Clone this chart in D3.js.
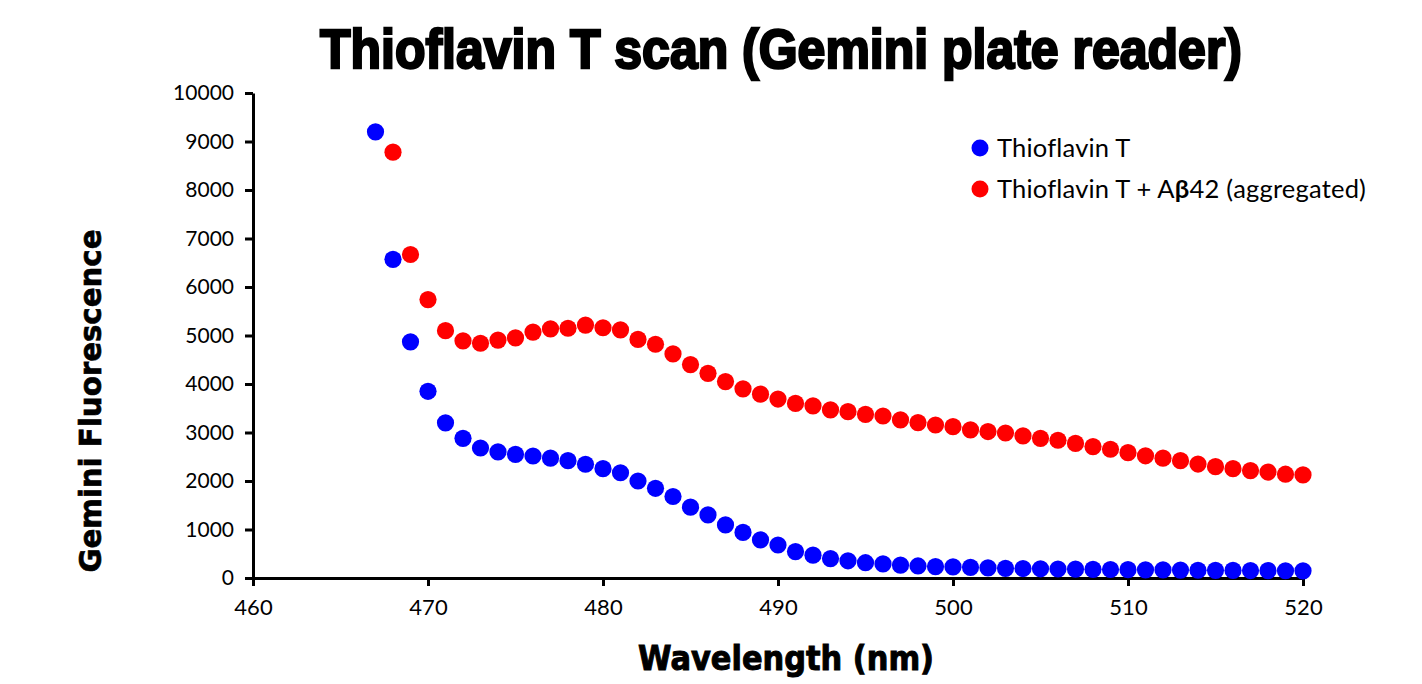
<!DOCTYPE html>
<html>
<head>
<meta charset="utf-8">
<script src="https://cdn.jsdelivr.net/npm/d3@7"></script>
<style>
  html, body { margin: 0; padding: 0; background: #fff; }
  svg { display: block; }
</style>
</head>
<body>
<svg id="chart" width="1422" height="684"></svg>
<script>
// ---- Data ----
const wavelengths = [467,468,469,470,471,472,473,474,475,476,477,478,479,480,481,482,483,484,485,486,487,488,489,490,491,492,493,494,495,496,497,498,499,500,501,502,503,504,505,506,507,508,509,510,511,512,513,514,515,516,517,518,519,520];
const thtValues = [9200,6570,4870,3850,3200,2880,2680,2600,2550,2515,2470,2420,2345,2255,2170,2000,1850,1680,1460,1300,1095,940,785,680,545,470,400,355,315,290,265,248,235,228,220,208,200,195,190,186,182,178,175,172,169,166,163,160,158,156,154,152,150,148];
const thtAbValues = [null,8780,6670,5740,5100,4890,4840,4905,4950,5070,5135,5150,5215,5160,5115,4920,4820,4620,4400,4220,4050,3900,3790,3690,3600,3550,3465,3430,3375,3340,3260,3205,3155,3120,3055,3020,2990,2930,2880,2840,2775,2710,2655,2585,2520,2470,2420,2350,2295,2255,2215,2185,2140,2125];
const seriesNames = ["Thioflavin T", "Thioflavin T + A\u03B242 (aggregated)"];
const seriesColors = ["#0000FF", "#FF0000"];
const xTicks = [460,470,480,490,500,510,520];
const yTicks = [0,1000,2000,3000,4000,5000,6000,7000,8000,9000,10000];
const titleText = "Thioflavin T scan (Gemini plate reader)";
const xTitle = "Wavelength (nm)";
const yTitle = "Gemini Fluorescence";

// ---- Chart ----
const svg = d3.select("#chart");
const x = d3.scaleLinear().domain([460, 520]).range([253, 1303]);
const y = d3.scaleLinear().domain([0, 10000]).range([578, 93]);

// Axes
const xAxis = svg.append("g").attr("transform", `translate(0,${y(0)})`)
  .call(d3.axisBottom(x).tickValues(xTicks).tickFormat(d3.format("d")).tickSize(8).tickSizeOuter(0).tickPadding(13));
const yAxis = svg.append("g").attr("transform", `translate(${x(460)},0)`)
  .call(d3.axisLeft(y).tickValues(yTicks).tickFormat(d3.format("d")).tickSize(8).tickSizeOuter(0).tickPadding(8));

[xAxis, yAxis].forEach(g => {
  g.select(".domain").attr("stroke", "#000").attr("stroke-width", 3);
  g.selectAll(".tick line").attr("stroke", "#000").attr("stroke-width", 3);
  g.selectAll(".tick text").attr("fill", "#000")
    .style("font-family", "Lato, 'Open Sans', sans-serif").style("font-size", "21px");
});
xAxis.selectAll(".tick text").attr("dy", "0.71em").style("font-size", "22px");
yAxis.selectAll(".tick text").attr("dx", "-3");

// Points
const series = [thtValues, thtAbValues];
series.forEach((vals, i) => {
  const pts = wavelengths.map((w, j) => ({ w, v: vals[j] })).filter(d => d.v != null);
  svg.append("g").selectAll("circle").data(pts).join("circle")
    .attr("cx", d => x(d.w)).attr("cy", d => y(d.v)).attr("r", 8.6)
    .attr("fill", seriesColors[i]);
});

// Title
svg.append("text").attr("x", 781).attr("y", 68).attr("text-anchor", "middle")
  .attr("textLength", 922).attr("lengthAdjust", "spacingAndGlyphs")
  .style("font-family", "'Liberation Sans Narrow', 'Liberation Sans', sans-serif")
  .style("font-weight", "bold").style("font-size", "56px")
  .attr("stroke", "#000").attr("stroke-width", 2.5).attr("fill", "#000")
  .text(titleText);

// Axis titles
svg.append("text").attr("x", 786).attr("y", 670).attr("text-anchor", "middle")
  .attr("textLength", 296).attr("lengthAdjust", "spacingAndGlyphs")
  .style("font-family", "'DejaVu Sans', sans-serif").style("font-weight", "bold")
  .style("font-size", "33px").attr("stroke", "#000").attr("stroke-width", 1)
  .text(xTitle);

svg.append("text").attr("transform", "translate(101,401) rotate(-90)").attr("text-anchor", "middle")
  .attr("textLength", 343).attr("lengthAdjust", "spacingAndGlyphs")
  .style("font-family", "'DejaVu Sans', sans-serif").style("font-weight", "bold")
  .style("font-size", "31px").attr("stroke", "#000").attr("stroke-width", 0.7)
  .text(yTitle);

// Legend
const legend = svg.append("g");
const legendY = [148, 189];
seriesNames.forEach((name, i) => {
  legend.append("circle").attr("cx", 980).attr("cy", legendY[i]).attr("r", 8.5).attr("fill", seriesColors[i]);
  const t = legend.append("text").attr("x", 997).attr("y", legendY[i] + 9)
    .style("font-family", "Lato, 'Open Sans', sans-serif").style("font-size", "25.5px")
    .style("letter-spacing", "0.2px").attr("fill", "#000");
  if (i === 1) {
    t.append("tspan").text("Thioflavin T + A");
    t.append("tspan").style("font-weight", "bold").text("\u03B2");
    t.append("tspan").text("42 (aggregated)");
  } else {
    t.text(name);
  }
});
</script>
</body>
</html>
